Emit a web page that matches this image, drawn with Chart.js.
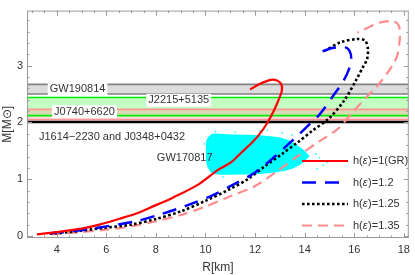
<!DOCTYPE html>
<html>
<head>
<meta charset="utf-8">
<script src="https://cdn.jsdelivr.net/npm/chart.js@4.4.0/dist/chart.umd.min.js"></script>
<style>
html, body { margin: 0; padding: 0; background: #fff; }
</style>
</head>
<body>
<canvas id="graficoMR" width="415" height="275"></canvas>
<script>
// ticks
const xTicks = [4, 6, 8, 10, 12, 14, 16, 18];
const yTicks = [0, 1, 2, 3];

// curvas masa-radio (R en km, M en masas solares)
const grR = [3.2, 4.0, 5.0, 5.72, 6.5, 7.3, 7.72, 8.7, 9.72, 10.52, 11.04, 11.4, 11.84, 12.1, 12.45, 12.75, 12.95, 13.08, 13.05, 12.88, 12.64, 12.2, 11.8];
const grM = [0.03, 0.07, 0.13, 0.2, 0.3, 0.41, 0.49, 0.68, 0.91, 1.17, 1.3, 1.45, 1.63, 1.75, 1.96, 2.2, 2.4, 2.56, 2.68, 2.74, 2.75, 2.68, 2.58];

const h12R = [3.72, 4.5, 5.3, 6.0, 7.2, 8.24, 9.2, 10.2, 11.1, 12.0, 12.8, 13.3, 13.8, 14.2, 14.6, 15.2, 15.55, 15.78, 15.88, 15.8, 15.6, 15.12, 14.64];
const h12M = [0.05, 0.08, 0.12, 0.17, 0.26, 0.39, 0.53, 0.7, 0.9, 1.12, 1.4, 1.6, 1.8, 1.97, 2.14, 2.5, 2.72, 2.93, 3.12, 3.27, 3.33, 3.31, 3.24];

const h125R = [3.72, 4.5, 5.84, 7.0, 8.0, 9.04, 10.0, 11.0, 11.7, 12.4, 13.1, 13.72, 14.3, 15.0, 15.6, 16.08, 16.32, 16.52, 16.55, 16.44, 16.12, 15.44, 14.84];
const h125M = [0.04, 0.07, 0.14, 0.2, 0.3, 0.44, 0.62, 0.83, 1.0, 1.23, 1.45, 1.65, 1.85, 2.08, 2.39, 2.75, 2.95, 3.12, 3.3, 3.44, 3.47, 3.41, 3.27];

const h135R = [3.8, 5.0, 6.0, 7.0, 8.0, 9.0, 10.0, 11.0, 12.0, 12.92, 13.7, 14.6, 15.32, 15.96, 16.5, 16.92, 17.32, 17.6, 17.75, 17.84, 17.8, 17.6, 17.04, 16.12];
const h135M = [0.03, 0.07, 0.11, 0.17, 0.26, 0.37, 0.52, 0.7, 0.88, 1.15, 1.4, 1.67, 1.88, 2.19, 2.45, 2.64, 2.86, 3.05, 3.2, 3.5, 3.7, 3.78, 3.76, 3.58];

// nube GW170817 (borde superior e inferior) y puntos sueltos
const nubeTopR = [10.0, 10.05, 10.3, 11.0, 12.0, 12.8, 13.3, 13.7, 14.0, 14.2];
const nubeTopM = [1.5, 1.7, 1.8, 1.79, 1.78, 1.75, 1.7, 1.6, 1.5, 1.4];
const nubeBotR = [10.0, 10.05, 10.3, 11.0, 12.0, 12.8, 13.4, 13.8, 14.2];
const nubeBotM = [1.5, 1.25, 1.1, 1.08, 1.09, 1.12, 1.17, 1.25, 1.4];
const sueltosR = [10.4, 11.2, 12.2, 12.5, 13.1, 13.5, 14.3, 14.45, 14.6, 14.75, 14.9, 14.5, 9.95, 10.7];
const sueltosM = [1.84, 1.83, 1.85, 1.87, 1.82, 1.78, 1.32, 1.45, 1.38, 1.25, 1.3, 1.18, 1.62, 1.04];

// bandas de pulsares / ondas gravitacionales
const bandas = ['GW190814', 'J2215+5135', 'J0740+6620'];
const bandaMin = [2.50, 2.12, 2.05];
const bandaMax = [2.67, 2.44, 2.23];
const masaJ1614 = 2.01;

const R_MIN = 2.8, R_MAX = 18.2;

const puntos = (xs, ys) => xs.map((v, i) => ({x: v, y: ys[i]}));
const horizontal = m => [{x: R_MIN, y: m}, {x: R_MAX, y: m}];

const FUENTE = '"Liberation Sans", Arial, sans-serif';

const curva = (label, xs, ys, color, width, dash, order) => ({
    label: label,
    data: puntos(xs, ys),
    showLine: true,
    borderColor: color,
    borderWidth: width,
    borderDash: dash,
    pointRadius: 0,
    tension: 0.3,
    fill: false,
    order: order,
    leyenda: true
});

const relleno = ['rgb(220,220,220)', 'rgb(196,255,196)', 'rgba(255,150,150,0.35)'];
const borde = ['rgb(130,130,130)', 'rgb(0,240,0)', 'rgb(255,150,150)'];
const ordenBanda = [40, 42, 41];

const datasets = [
    curva('h(ε)=1(GR)', grR, grM, '#ff0000', 2.2, [], 1),
    curva('h(ε)=1.2', h12R, h12M, '#0000ff', 2.5, [14, 9], 2),
    curva('h(ε)=1.25', h125R, h125M, '#000000', 2.6, [2.6, 2.4], 3),
    curva('h(ε)=1.35', h135R, h135M, 'rgb(255,140,140)', 2.2, [10, 6], 4),
    {
        data: puntos(nubeTopR, nubeTopM), showLine: true, borderWidth: 0,
        pointRadius: 0, tension: 0.3, order: 20
    },
    {
        data: puntos(nubeBotR, nubeBotM), showLine: true, borderWidth: 0,
        pointRadius: 0, tension: 0.3, order: 21,
        fill: '-1', backgroundColor: 'rgb(0,255,255)'
    },
    {
        data: puntos(sueltosR, sueltosM), showLine: false, pointRadius: 1,
        pointStyle: 'rect', pointBorderWidth: 0,
        pointBackgroundColor: 'rgb(0,255,255)', order: 19
    },
    {
        data: horizontal(masaJ1614), showLine: true, borderColor: '#000',
        borderWidth: 2.5, pointRadius: 0, order: 25
    }
];

bandas.forEach((b, i) => {
    datasets.push({
        data: horizontal(bandaMax[i]), showLine: true, borderWidth: 0,
        pointRadius: 0, fill: {value: bandaMin[i]},
        backgroundColor: relleno[i], order: ordenBanda[i]
    });
    datasets.push({
        data: horizontal(bandaMax[i]), showLine: true, borderColor: borde[i],
        borderWidth: 1.6, pointRadius: 0, order: 30
    });
    datasets.push({
        data: horizontal(bandaMin[i]), showLine: true, borderColor: borde[i],
        borderWidth: 1.6, pointRadius: 0, order: 30
    });
});

// marco con ticks hacia dentro
const marco = {
    id: 'marco',
    afterDatasetsDraw(chart) {
        const {ctx, chartArea: a, scales: {x, y}} = chart;
        ctx.save();
        ctx.strokeStyle = '#9a9a9a';
        ctx.lineWidth = 1;
        ctx.strokeRect(a.left + 0.5, a.top + 0.5, a.width - 1, a.height - 1);
        ctx.beginPath();
        for (let i = 6; i <= 36; i++) {
            const v = i * 0.5;
            const px = Math.round(x.getPixelForValue(v)) + 0.5;
            const len = v % 2 === 0 ? 5 : 2.5;
            ctx.moveTo(px, a.bottom); ctx.lineTo(px, a.bottom - len);
            ctx.moveTo(px, a.top); ctx.lineTo(px, a.top + len);
        }
        for (let i = 0; i <= 19; i++) {
            const v = i * 0.2;
            const py = Math.round(y.getPixelForValue(v)) + 0.5;
            const len = i % 5 === 0 ? 5 : 2.5;
            ctx.moveTo(a.left, py); ctx.lineTo(a.left + len, py);
            ctx.moveTo(a.right, py); ctx.lineTo(a.right - len, py);
        }
        ctx.stroke();
        ctx.restore();
    }
};

// textos sobre el grafico
const textos = {
    id: 'textos',
    afterDatasetsDraw(chart) {
        const {ctx, scales: {x, y}} = chart;
        const items = [
            {t: bandas[0], r: 4.84, m: 2.585, caja: true, al: 'center'},
            {t: bandas[1], r: 8.92, m: 2.39, caja: true, al: 'center'},
            {t: bandas[2], r: 5.12, m: 2.19, caja: true, al: 'center'},
            {t: 'J1614−2230 and J0348+0432', r: 3.28, m: 1.74, caja: false, al: 'left'},
            {t: 'GW170817', r: 9.16, m: 1.37, caja: false, al: 'center'}
        ];
        ctx.save();
        ctx.font = '11px ' + FUENTE;
        ctx.textBaseline = 'middle';
        items.forEach(it => {
            const px = x.getPixelForValue(it.r);
            const py = y.getPixelForValue(it.m);
            const w = ctx.measureText(it.t).width;
            const x0 = it.al === 'center' ? px - w / 2 : px;
            if (it.caja) {
                ctx.fillStyle = '#fff';
                ctx.fillRect(x0 - 2, py - 6.5, w + 4, 13);
            }
            ctx.fillStyle = '#333';
            ctx.textAlign = 'left';
            ctx.fillText(it.t, x0, py);
        });
        ctx.restore();
    }
};

// leyenda dentro del area
const leyenda = {
    id: 'leyenda',
    afterDraw(chart) {
        const {ctx} = chart;
        const items = chart.data.datasets.filter(d => d.leyenda);
        ctx.save();
        ctx.textBaseline = 'middle';
        items.forEach((d, i) => {
            const yy = 161 + i * 21.5;
            ctx.strokeStyle = d.borderColor;
            ctx.lineWidth = d.borderWidth;
            ctx.setLineDash(d.borderDash);
            ctx.beginPath();
            ctx.moveTo(302, yy);
            ctx.lineTo(348, yy);
            ctx.stroke();
            ctx.setLineDash([]);
            const partes = d.label.split('ε');
            let xx = 353;
            ctx.fillStyle = '#333';
            ctx.font = '11px ' + FUENTE;
            ctx.fillText(partes[0], xx, yy);
            xx += ctx.measureText(partes[0]).width;
            ctx.font = 'italic 11px ' + FUENTE;
            ctx.fillText('ε', xx, yy);
            xx += ctx.measureText('ε').width + 0.5;
            ctx.font = '11px ' + FUENTE;
            ctx.fillText(partes[1], xx, yy);
        });
        ctx.restore();
    }
};

new Chart(document.getElementById('graficoMR'), {
    type: 'scatter',
    data: {datasets: datasets},
    options: {
        responsive: false,
        animation: false,
        devicePixelRatio: 1,
        layout: {padding: {top: 1, right: 3, left: 0, bottom: 0}},
        plugins: {
            legend: {display: false},
            tooltip: {enabled: false}
        },
        scales: {
            x: {
                type: 'linear',
                min: R_MIN,
                max: R_MAX,
                afterBuildTicks: s => { s.ticks = xTicks.map(v => ({value: v})); },
                afterFit: s => { s.height = 37; },
                grid: {display: false, drawTicks: false},
                border: {display: false},
                ticks: {color: '#333', padding: 5, maxRotation: 0, autoSkip: false, font: {family: FUENTE, size: 11}},
                title: {display: true, text: 'R[km]', color: '#333', padding: 0, font: {family: FUENTE, size: 12}}
            },
            y: {
                type: 'linear',
                min: -0.035,
                max: 3.97,
                afterBuildTicks: s => { s.ticks = yTicks.map(v => ({value: v})); },
                afterFit: s => { s.width = 27; },
                grid: {display: false, drawTicks: false},
                border: {display: false},
                ticks: {color: '#333', padding: 4, autoSkip: false, font: {family: FUENTE, size: 11}},
                title: {display: true, text: 'M[M⊙]', color: '#333', padding: 0, font: {family: FUENTE, size: 12}}
            }
        }
    },
    plugins: [marco, textos, leyenda]
});
</script>
</body>
</html>
